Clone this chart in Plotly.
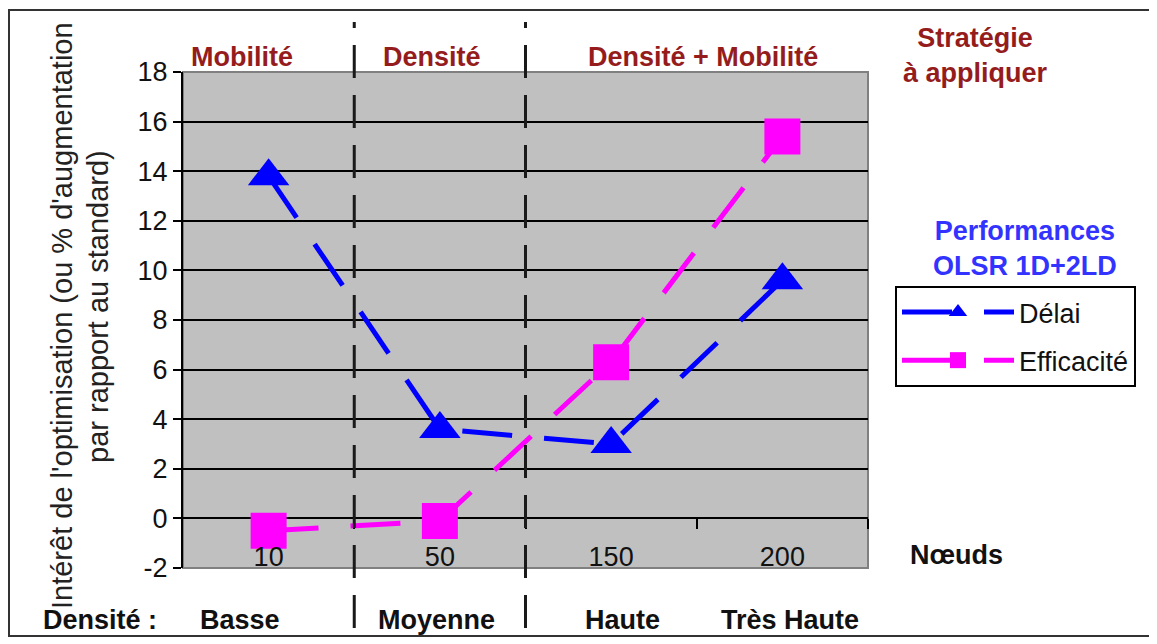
import plotly.graph_objects as go

# ---- data ----
nodes = ["10", "50", "150", "200"]
densite_labels = ["Basse", "Moyenne", "Haute", "Très Haute"]
delai = [13.8, 3.6, 3.0, 9.6]
efficacite = [-0.5, -0.1, 6.3, 15.4]
strategies = ["Mobilité", "Densité", "Densité + Mobilité"]
y_ticks = list(range(-2, 19, 2))
y_ticktext = [str(v) for v in y_ticks]

# ---- layout geometry (reference pixels; page body has 8px margin) ----
OFF = 8
W, H = 1157 - OFF, 644 - OFF
L, R, T, B = 183, 868, 72, 568
PW, PH = R - L, B - T


def xp(px):
    return (px - L) / PW


def yp(py):
    return (B - py) / PH


FONT = "Arial, Liberation Sans, sans-serif"
FS = 27
DARKRED = "#951c1c"
xpos = list(range(len(nodes)))

fig = go.Figure()
fig.add_trace(go.Scatter(
    x=xpos, y=delai, name="Délai", mode="lines+markers",
    line=dict(color="#0000ff", width=5, dash="50px,32px"),
    marker=dict(symbol="triangle-up", size=36, color="#0000ff"),
    legendgroup="a"))
fig.add_trace(go.Scatter(
    x=xpos, y=efficacite, name="Efficacité", mode="lines+markers",
    line=dict(color="#ff00ff", width=5, dash="50px,32px"),
    marker=dict(symbol="square", size=36, color="#ff00ff"),
    legendgroup="b"))
# invisible helper trace for the category-boundary tick axis
fig.add_trace(go.Scatter(x=[], y=[], xaxis="x2", showlegend=False, hoverinfo="skip"))

fig.update_layout(
    width=W, height=H,
    margin=dict(l=L - OFF, r=(W + OFF) - R, t=T - OFF, b=(H + OFF) - B, pad=0),
    paper_bgcolor="white", plot_bgcolor="#c0c0c0",
    font=dict(family=FONT, size=FS, color="#111"),
    showlegend=True,
    legend=dict(x=xp(895), y=yp(286), xanchor="left", yanchor="top",
                bgcolor="white", bordercolor="black", borderwidth=2,
                font=dict(size=FS, color="#111"), tracegroupgap=10,
                itemwidth=112),
    xaxis=dict(range=[-0.5, 3.5], tickvals=xpos, ticktext=nodes,
               ticklabelposition="outside", ticklabelstandoff=-30,
               ticks="", showgrid=False,
               zeroline=False, showline=False,
               tickfont=dict(size=FS, color="#111")),
    xaxis2=dict(overlaying="x", anchor="free", position=0.1,
                range=[-0.5, 3.5], tickvals=[0.5, 1.5, 2.5, 3.5],
                ticks="outside", ticklen=10, tickwidth=2, tickcolor="black",
                showticklabels=False, showgrid=False, zeroline=False,
                showline=False),
    yaxis=dict(range=[-2, 18], tickvals=y_ticks, ticktext=y_ticktext,
               showgrid=True,
               gridcolor="black", gridwidth=2, zeroline=True,
               zerolinecolor="black", zerolinewidth=2,
               showline=True, linecolor="black", linewidth=2,
               ticks="outside", ticklen=8, tickwidth=2, tickcolor="black",
               tickfont=dict(size=FS, color="#111")),
)

shapes = []
# gray plot-area border
shapes.append(dict(type="rect", xref="paper", yref="paper", x0=0, x1=1, y0=0, y1=1,
                   line=dict(color="#808080", width=2), layer="below"))
# dashed strategy separators
for xb in [0.5, 1.5]:
    shapes.append(dict(type="line", xref="x", yref="paper", x0=xb, x1=xb,
                       y0=yp(628), y1=yp(22),
                       line=dict(color="#1a1a1a", width=3, dash="33px,17px")))
# outer frame
shapes.append(dict(type="rect", xref="paper", yref="paper",
                   x0=xp(9), x1=xp(1150), y0=yp(636), y1=yp(10),
                   line=dict(color="#333", width=2)))
fig.update_layout(shapes=shapes)


def note(text, cx, cy, color="#111", size=FS, angle=0):
    return dict(text=text, x=xp(cx), y=yp(cy), xref="paper", yref="paper",
                xanchor="center", yanchor="middle", showarrow=False,
                textangle=angle, font=dict(size=size, color=color))


ann = []
for text, cx in zip(strategies, [242, 432, 703]):
    ann.append(note(f"<b>{text}</b>", cx, 57, DARKRED))
ann.append(note("<b>Stratégie<br>à appliquer</b>", 975, 55, DARKRED))
ann.append(note("<b>Performances<br>OLSR 1D+2LD</b>", 1025, 248, "#3333ff"))
ann.append(note("<b>Nœuds</b>", 957, 555))
ann.append(note("<b>Densité :</b>", 100, 620))
for text, cx in zip(densite_labels, [240, 436, 622, 790]):
    ann.append(note(f"<b>{text}</b>", cx, 620))
ann.append(note("Intérêt de l'optimisation (ou % d'augmentation", 62, 316, "#222", 29, -90))
ann.append(note("par rapport au standard)", 98, 307, "#222", 29, -90))
fig.update_layout(annotations=ann)

fig.write_html("out.html")
